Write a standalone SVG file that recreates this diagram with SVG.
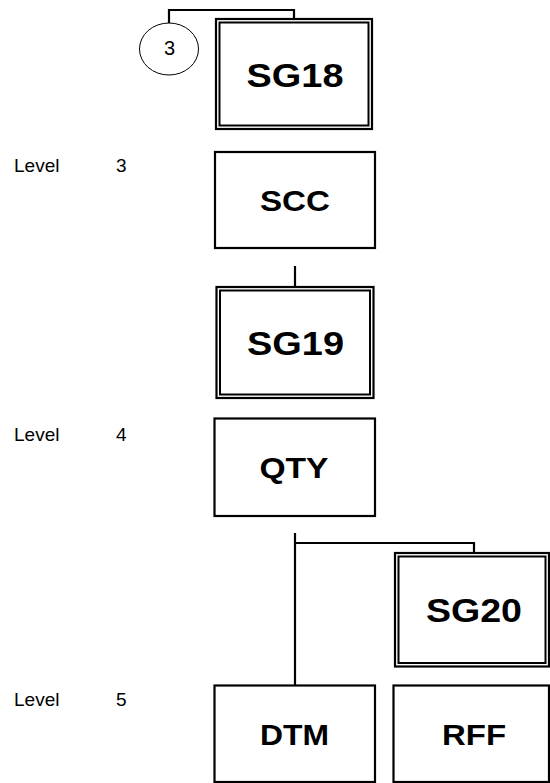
<svg xmlns="http://www.w3.org/2000/svg" width="550" height="783" viewBox="0 0 550 783">
<style>
.box{fill:#fff;stroke:#000;stroke-width:2.2}
.in{fill:none;stroke:#000;stroke-width:2}
.lbl{font-family:"Liberation Sans",Arial,sans-serif;font-weight:bold;font-size:34px;text-anchor:middle;fill:#000}
.sm{font-size:30px}
.lv{font-family:"Liberation Sans",Arial,sans-serif;font-size:19px;fill:#000}
.conn{fill:none;stroke:#000;stroke-width:2.2}
</style>
<rect width="550" height="783" fill="#fff"/>
<g id="connectors">
<path class="conn" d="M169,23 V10 H294 V19"/>
<path class="conn" d="M295,266 V287"/>
<path class="conn" d="M295,533 V685"/>
<path class="conn" d="M295,543 H474 V553"/>
</g>
<g id="levels">
<text class="lv" x="14" y="172">Level</text><text class="lv" x="116" y="172">3</text>
<text class="lv" x="14" y="441">Level</text><text class="lv" x="116" y="441">4</text>
<text class="lv" x="14" y="706">Level</text><text class="lv" x="116" y="706">5</text>
</g>
<g id="ref3">
<ellipse cx="169" cy="49" rx="29.5" ry="26" fill="#fff" stroke="#000" stroke-width="1"/>
<text x="169.5" y="55" font-family="Liberation Sans,Arial,sans-serif" font-size="20" text-anchor="middle">3</text>
</g>
<g id="SG18">
<rect class="box" x="216" y="19" width="156" height="110"/>
<rect class="in" x="219.5" y="22.5" width="149" height="103"/>
<text class="lbl" x="295" y="87" textLength="97" lengthAdjust="spacingAndGlyphs">SG18</text>
</g>
<g id="SCC">
<rect class="box" x="215" y="152" width="160" height="96"/>
<text class="lbl sm" x="295" y="211" textLength="70" lengthAdjust="spacingAndGlyphs">SCC</text>
</g>
<g id="SG19">
<rect class="box" x="216.5" y="287" width="157" height="111"/>
<rect class="in" x="220" y="290.5" width="150" height="104"/>
<text class="lbl" x="295.5" y="355" textLength="97" lengthAdjust="spacingAndGlyphs">SG19</text>
</g>
<g id="QTY">
<rect class="box" x="214.5" y="418.5" width="160.5" height="97.5"/>
<text class="lbl sm" x="294" y="478" textLength="69" lengthAdjust="spacingAndGlyphs">QTY</text>
</g>
<g id="SG20">
<rect class="box" x="395" y="553" width="154" height="113.5"/>
<rect class="in" x="398.5" y="556.5" width="147" height="106.5"/>
<text class="lbl" x="474" y="622" textLength="96" lengthAdjust="spacingAndGlyphs">SG20</text>
</g>
<g id="DTM">
<rect class="box" x="214.5" y="685.5" width="160.5" height="96.5"/>
<text class="lbl sm" x="294.5" y="745" textLength="69" lengthAdjust="spacingAndGlyphs">DTM</text>
</g>
<g id="RFF">
<rect class="box" x="393.5" y="685.5" width="155.5" height="96.5"/>
<text class="lbl sm" x="474" y="745" textLength="64" lengthAdjust="spacingAndGlyphs">RFF</text>
</g>
</svg>
